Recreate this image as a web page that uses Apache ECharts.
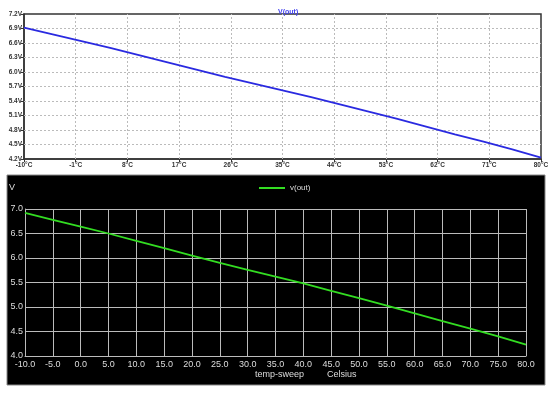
<!DOCTYPE html>
<html><head><meta charset="utf-8">
<script src="https://cdn.jsdelivr.net/npm/echarts@6/dist/echarts.min.js"></script>
<style>html,body{margin:0;padding:0;background:#fff}#c{width:554px;height:395px}</style>
</head><body><div id="c"></div>
<script>
const temps = [-10,-5,0,5,10,15,20,25,30,35,40,45,50,55,60,65,70,75,80];
const vout = [6.92,6.78,6.64,6.50,6.35,6.20,6.05,5.90,5.76,5.62,5.48,5.33,5.18,5.03,4.87,4.71,4.56,4.40,4.23];
const topXTicks = [-10,-1,8,17,26,35,44,53,62,71,80];
const topYTicks = [4.2,4.5,4.8,5.1,5.4,5.7,6.0,6.3,6.6,6.9,7.2];
const seriesName = 'V(out)';
const legendName = 'v(out)';
const yUnit = 'V';
const xName = 'temp-sweep';
const xUnit = 'Celsius';

const pts = temps.map((t,i)=>[t, vout[i]]);
const chart = echarts.init(document.getElementById('c'), null, {renderer:'canvas'});
const topLbl = {fontSize:6.5, fontWeight:'bold', color:'#333', fontFamily:'Arial, Liberation Sans'};
const botLbl = {fontSize:9, color:'#ddd', fontFamily:'Arial, Liberation Sans'};
const gridMarks = topXTicks.slice(1,-1).map(v=>({xAxis:v}))
  .concat(topYTicks.slice(1,-1).map(v=>({yAxis:v})));
chart.setOption({
  animation:false,
  backgroundColor:'#fff',
  graphic:[
    {type:'rect', shape:{x:7,y:175,width:538,height:210}, style:{fill:'#000', stroke:'#888', lineWidth:1}, z:-10},
    {type:'text', left:9, top:183, style:{text:yUnit, fill:'#ddd', fontSize:9, fontFamily:'Arial, Liberation Sans'}},
    {type:'text', left:255, top:370, style:{text:xName, fill:'#ddd', fontSize:9, fontFamily:'Arial, Liberation Sans'}},
    {type:'text', left:327, top:370, style:{text:xUnit, fill:'#ddd', fontSize:9, fontFamily:'Arial, Liberation Sans'}}
  ],
  title:{text:seriesName, left:273, top:4, textStyle:{fontSize:7, fontWeight:'bold', color:'#4444ee', fontFamily:'Arial, Liberation Sans'}},
  legend:{data:[legendName], left:254, top:179, itemWidth:26, itemHeight:2, itemGap:4,
    icon:'rect', textStyle:{color:'#ddd', fontSize:8, fontFamily:'Arial, Liberation Sans'}},
  grid:[
    {left:24, top:14, width:517, height:145, show:true, borderColor:'#333', borderWidth:1.5, backgroundColor:'transparent'},
    {left:25, top:209, width:501, height:147}
  ],
  xAxis:[
    {gridIndex:0, type:'value', min:-10, max:80,
      axisLine:{onZero:false, lineStyle:{color:'#333', width:1.5}},
      axisTick:{show:true, length:3, customValues:topXTicks, lineStyle:{color:'#333'}},
      axisLabel:{customValues:topXTicks, formatter:v=>v+'°C', margin:3, ...topLbl},
      splitLine:{show:false}},
    {gridIndex:1, type:'value', min:-10, max:80, interval:5,
      axisLine:{onZero:false, lineStyle:{color:'#bbb'}}, axisTick:{show:false},
      axisLabel:{formatter:v=>v.toFixed(1), margin:4, ...botLbl},
      splitLine:{show:true, lineStyle:{color:'#bbb', width:1}}}
  ],
  yAxis:[
    {gridIndex:0, type:'value', min:4.2, max:7.2,
      axisLine:{show:true, onZero:false, lineStyle:{color:'#333', width:1.5}},
      axisTick:{show:true, length:3, customValues:topYTicks, lineStyle:{color:'#333'}},
      axisLabel:{customValues:topYTicks, formatter:v=>v.toFixed(1)+'V', margin:2, ...topLbl},
      splitLine:{show:false}},
    {gridIndex:1, type:'value', min:4, max:7, interval:0.5,
      axisLine:{show:true, onZero:false, lineStyle:{color:'#bbb'}}, axisTick:{show:false},
      axisLabel:{formatter:v=>v.toFixed(1), margin:2, ...botLbl},
      splitLine:{show:true, lineStyle:{color:'#bbb', width:1}}}
  ],
  series:[
    {name:seriesName, type:'line', xAxisIndex:0, yAxisIndex:0, data:pts, showSymbol:false, z:3,
      lineStyle:{color:'#2a2ae0', width:1.8}, itemStyle:{color:'#2a2ae0'},
      markLine:{silent:true, symbol:'none', label:{show:false}, animation:false, z:1,
        lineStyle:{color:'#bbb', type:[2,2], width:1}, emphasis:{disabled:true}, data:gridMarks}},
    {name:legendName, type:'line', xAxisIndex:1, yAxisIndex:1, data:pts, showSymbol:false,
      lineStyle:{color:'#33dd22', width:1.8}, itemStyle:{color:'#33dd22'}}
  ]
});
</script></body></html>
